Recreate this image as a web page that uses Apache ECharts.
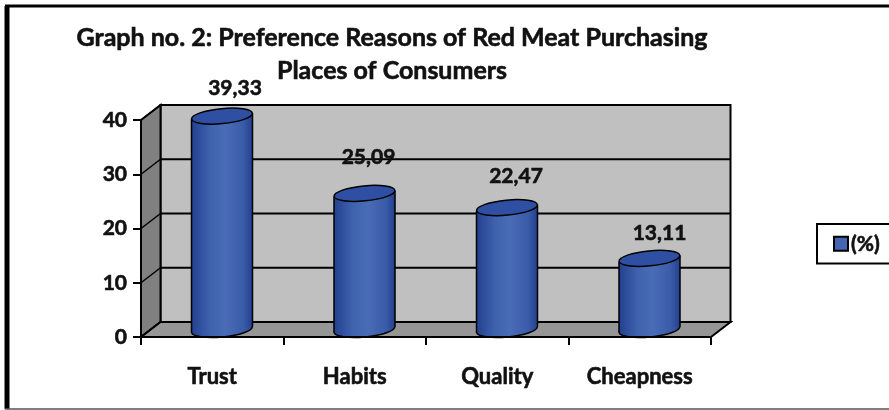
<!DOCTYPE html>
<html>
<head>
<meta charset="utf-8">
<script src="https://cdn.jsdelivr.net/npm/echarts@6/dist/echarts.min.js"></script>
<style>html,body{margin:0;padding:0;background:#fff}</style>
</head>
<body>
<div id="main" style="width:889px;height:410px"></div>
<script>
const categories = ['Trust','Habits','Quality','Cheapness'];
const percentValues = [39.33,25.09,22.47,13.11];
const yTicks = [0,10,20,30,40];
const titleLines = ['Graph no. 2: Preference Reasons of Red Meat Purchasing','Places of Consumers'];

// depth of the fake 3d box, front plane is the grid
const DX = 19.5, DY = -15;
const RX = 30.5, RY = 7.5, TILT = 3;
const font = 'Lato, sans-serif';
// hand placed labels in the original
const labelNudge = [[13,-28],[4,-36],[9,-31],[10,-25]];
// lato bold comes out lighter than the original text
const heavy = {textBorderColor:'#111',textBorderWidth:0.6};

function seg(x1,y1,x2,y2,w){
    return {type:'line',shape:{x1,y1,x2,y2},style:{stroke:'#000',lineWidth:w||2}};
}

function renderBox(params,api){
    const v = api.value(0);
    const p = api.coord([0,v]);
    const size = api.size([1,0]);
    const x0 = p[0]-size[0]/2;
    const x1 = x0+size[0]*categories.length;
    const y = p[1];
    const children = [];
    const zero = api.coord([0,0])[1];
    const top = api.coord([0,40])[1];
    if(params.dataIndex===0){
        children.push({type:'polygon',shape:{points:[[x0+DX,top+DY],[x1+DX,top+DY],[x1+DX,zero+DY],[x0+DX,zero+DY]]},style:{fill:'#c0c0c0',stroke:'#000',lineWidth:2}});
        children.push({type:'polygon',shape:{points:[[x0,top],[x0+DX,top+DY],[x0+DX,zero+DY],[x0,zero]]},style:{fill:'#808080',stroke:'#000',lineWidth:2}});
        children.push({type:'polygon',shape:{points:[[x0,zero],[x0+DX,zero+DY],[x1+DX,zero+DY],[x1,zero]]},style:{fill:'#969696',stroke:'#000',lineWidth:2}});
    }
    if(v>0){
        children.push(seg(x0+DX,y+DY,x1+DX,y+DY,2));
    }
    children.push(seg(x0,y,x0+DX,y+DY,1.5));
    return {type:'group',children};
}

function renderCylinder(params,api){
    const i = api.value(0);
    const v = api.value(1);
    const base = api.coord([i,0]);
    const head = api.coord([i,v]);
    const cx = base[0]+DX/2;
    const by = base[1]+DY/2;
    const ty = head[1]+DY/2;
    const bodyFill = new echarts.graphic.LinearGradient(0,0,1,0,[
        {offset:0,color:'#22408f'},
        {offset:0.3,color:'#3f62ad'},
        {offset:0.55,color:'#4a6cb6'},
        {offset:0.85,color:'#3a5ba8'},
        {offset:1,color:'#22408f'}
    ]);
    const rot = -0.095;
    return {type:'group',children:[
        {type:'ellipse',x:cx,y:by,rotation:-rot,shape:{cx:0,cy:0,rx:RX,ry:RY},style:{fill:bodyFill,stroke:'#000',lineWidth:1.5}},
        {type:'polygon',shape:{points:[[cx-RX,ty+TILT],[cx+RX,ty-TILT],[cx+RX,by-TILT],[cx-RX,by+TILT]]},style:{fill:bodyFill}},
        seg(cx-RX,ty+TILT,cx-RX,by+TILT,1.5),
        seg(cx+RX,ty-TILT,cx+RX,by-TILT,1.5),
        {type:'ellipse',x:cx,y:ty,rotation:-rot,shape:{cx:0,cy:0,rx:RX,ry:RY},style:{fill:'#2f50a2',stroke:'#000',lineWidth:1.5}},
        {type:'text',x:cx+labelNudge[i][0],y:ty+labelNudge[i][1],style:{text:v.toFixed(2).replace('.',','),fill:'#111',stroke:'#111',lineWidth:0.6,font:'bold 21px '+font,textAlign:'center',textVerticalAlign:'middle'}}
    ]};
}

const chart = echarts.init(document.getElementById('main'),null,{renderer:'canvas'});
chart.setOption({
    animation:false,
    backgroundColor:'#fff',
    title:{
        text:titleLines.join('\n'),
        left:387,
        top:16,
        textAlign:'center',
        textStyle:{fontFamily:font,fontSize:25,fontWeight:'bold',color:'#111',lineHeight:33,...heavy}
    },
    legend:{
        left:817,
        top:224,
        padding:[9,12,9,16],
        borderColor:'#000',
        borderWidth:2,
        itemWidth:14,
        itemHeight:14,
        itemGap:0,
        data:[{name:'(%)',icon:'rect',itemStyle:{color:'#4466b2',borderColor:'#000',borderWidth:2}}],
        textStyle:{fontFamily:font,fontSize:21,fontWeight:'bold',color:'#111',padding:[0,0,0,-2],...heavy}
    },
    grid:{left:141,right:178,top:120,bottom:73},
    xAxis:{
        type:'category',
        data:categories,
        boundaryGap:true,
        z:5,
        axisLine:{lineStyle:{color:'#000',width:2}},
        axisTick:{show:true,alignWithLabel:false,length:8,lineStyle:{color:'#000',width:2}},
        axisLabel:{interval:0,margin:29,fontFamily:font,fontSize:22,fontWeight:'bold',color:'#111',...heavy}
    },
    yAxis:{
        type:'value',
        min:0,
        max:40,
        interval:10,
        z:5,
        splitLine:{show:false},
        axisLine:{show:true,lineStyle:{color:'#000',width:2}},
        axisTick:{show:true,length:8,lineStyle:{color:'#000',width:2}},
        axisLabel:{margin:14,padding:[5,0,0,0],fontFamily:font,fontSize:21,fontWeight:'bold',color:'#111',...heavy}
    },
    graphic:[
        {type:'line',shape:{x1:5,y1:6,x2:889,y2:6},style:{stroke:'#000',lineWidth:3}},
        {type:'line',shape:{x1:7,y1:6,x2:7,y2:409},style:{stroke:'#000',lineWidth:5}},
        {type:'line',shape:{x1:5,y1:409,x2:889,y2:409},style:{stroke:'#555',lineWidth:1.5}}
    ],
    series:[
        {type:'custom',renderItem:renderBox,coordinateSystem:'cartesian2d',silent:true,z:1,encode:{y:0},data:yTicks.map(t=>[t])},
        {type:'custom',name:'(%)',renderItem:renderCylinder,coordinateSystem:'cartesian2d',z:2,encode:{x:0,y:1},data:percentValues.map((v,i)=>[i,v])}
    ]
});
</script>
</body>
</html>
